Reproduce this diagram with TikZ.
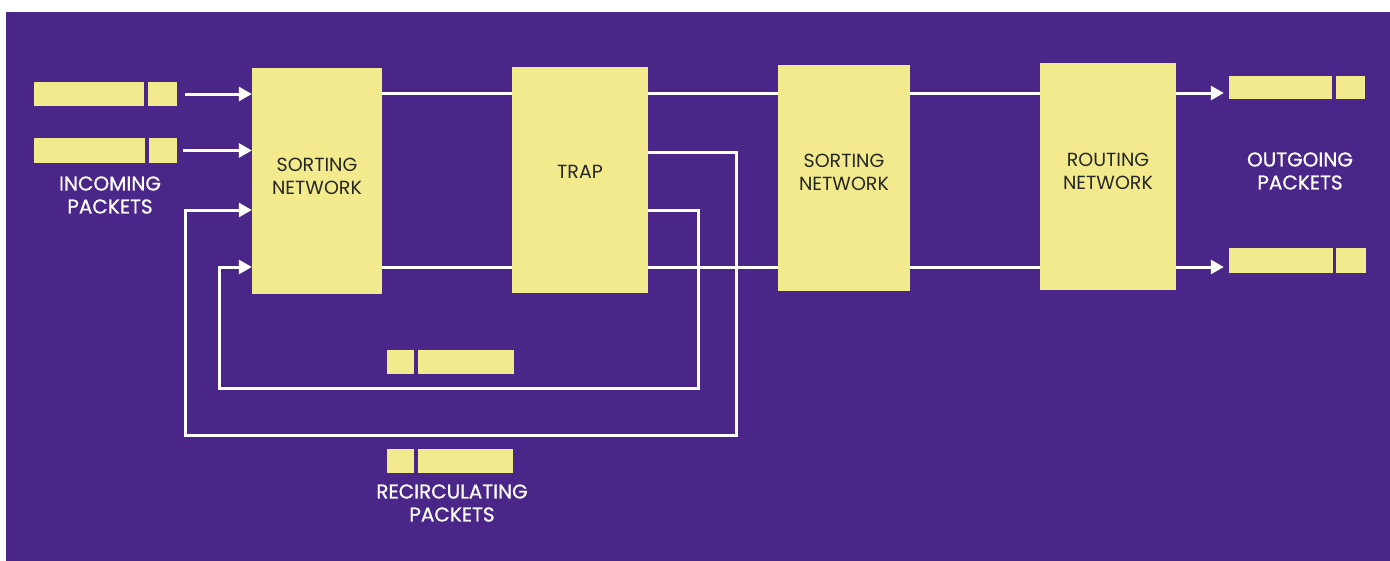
\documentclass[tikz,border=0pt]{standalone}
\usepackage{fontspec}
\setmainfont{Poppins}
\newfontfamily\capfont[FakeBold=0.8]{Poppins}
\usetikzlibrary{arrows.meta}
\definecolor{bgpurple}{HTML}{4A2688}
\definecolor{boxyellow}{HTML}{F2EA8C}
\definecolor{inktext}{HTML}{262626}
\tikzset{
  netbox/.style={fill=boxyellow, inner sep=0pt, minimum height=226pt},
  boxtext/.style={text=inktext, align=center, font=\fontsize{19}{23}\selectfont},
  pkt/.style={fill=boxyellow, inner sep=0pt, minimum height=24pt},
  wire/.style={draw=white, line width=3pt},
  feed/.style={wire, -{Triangle[length=13pt,width=14pt]}},
  caption/.style={text=white, align=center, font=\capfont\fontsize{20}{23}\selectfont},
}
\begin{document}
\begin{tikzpicture}[x=1pt,y=-1pt]
% page and background
\useasboundingbox (0,0) rectangle (1390,560);
\fill[white] (0,0) rectangle (1390,560);
\fill[bgpurple] (6,12) rectangle (1400,570);
% rails
\coordinate (hi) at (0,93);
\coordinate (mid) at (0,152);
\coordinate (low) at (0,210);
\coordinate (lo) at (0,267);
% network boxes
\node[netbox, minimum width=130pt, label={[boxtext, yshift=5pt]center:{SORTING\\NETWORK}}] (sortA) at (317,181) {};
\node[netbox, minimum width=136pt, label={[boxtext, yshift=8pt]center:{TRAP}}] (trap) at (580,180) {};
\node[netbox, minimum width=132pt, label={[boxtext, yshift=6pt]center:{SORTING\\NETWORK}}] (sortB) at (844,178) {};
\node[netbox, minimum width=136pt, minimum height=227pt, label={[boxtext, yshift=5pt]center:{ROUTING\\NETWORK}}] (route) at (1108,176.5) {};
% packets
\node[pkt, minimum width=110pt] (inA) at (89,94) {};
\node[pkt, minimum width=29pt] (inAh) at (162.5,94) {};
\node[pkt, minimum width=111pt, minimum height=25pt] (inB) at (89.5,150.5) {};
\node[pkt, minimum width=28pt, minimum height=25pt] (inBh) at (163,150.5) {};
\node[pkt, minimum width=103pt, minimum height=23pt] (outA) at (1280.5,87.5) {};
\node[pkt, minimum width=29pt, minimum height=23pt] (outAh) at (1350.5,87.5) {};
\node[pkt, minimum width=104pt, minimum height=25pt] (outB) at (1281,260.5) {};
\node[pkt, minimum width=30pt, minimum height=25pt] (outBh) at (1351,260.5) {};
\node[pkt, minimum width=27pt] (recAh) at (400.5,362) {};
\node[pkt, minimum width=96pt] (recA) at (466,362) {};
\node[pkt, minimum width=27pt] (recBh) at (400.5,461) {};
\node[pkt, minimum width=95pt] (recB) at (465.5,461) {};
% captions
\node[caption] (inCap) at (110,195) {INCOMING\\PACKETS};
\node[caption] (outCap) at (1300,171) {OUTGOING\\PACKETS};
\node[caption] (recCap) at (452,503) {RECIRCULATING\\PACKETS};
% wires
\draw[feed, shorten <=8pt] (inAh.east) -- (sortA.west |- inAh.east);
\draw[feed, shorten <=6pt] (inBh.east) -- (sortA.west |- inBh.east);
\draw[wire] (sortA.east |- hi) -- (trap.west |- hi);
\draw[wire] (sortA.east |- lo) -- (trap.west |- lo);
\draw[wire] (trap.east |- hi) -- (sortB.west |- hi);
\draw[wire] (trap.east |- lo) -- (sortB.west |- lo);
\draw[wire] (sortB.east |- hi) -- (route.west |- hi);
\draw[wire] (sortB.east |- lo) -- (route.west |- lo);
\draw[feed, shorten >=5pt] (route.east |- hi) -- (outA.west |- hi);
\draw[feed, shorten >=5pt] (route.east |- lo) -- (outB.west |- lo);
% recirculation loops
\coordinate (outerSE) at (736,435);
\coordinate (outerSW) at (185,435);
\coordinate (innerSE) at (698,388);
\coordinate (innerSW) at (219,388);
\draw[feed] (trap.east |- mid) -| (outerSE) -- (outerSW) |- (sortA.west |- low);
\draw[feed] (trap.east |- low) -| (innerSE) -- (innerSW) |- (sortA.west |- lo);
\end{tikzpicture}
\end{document}
